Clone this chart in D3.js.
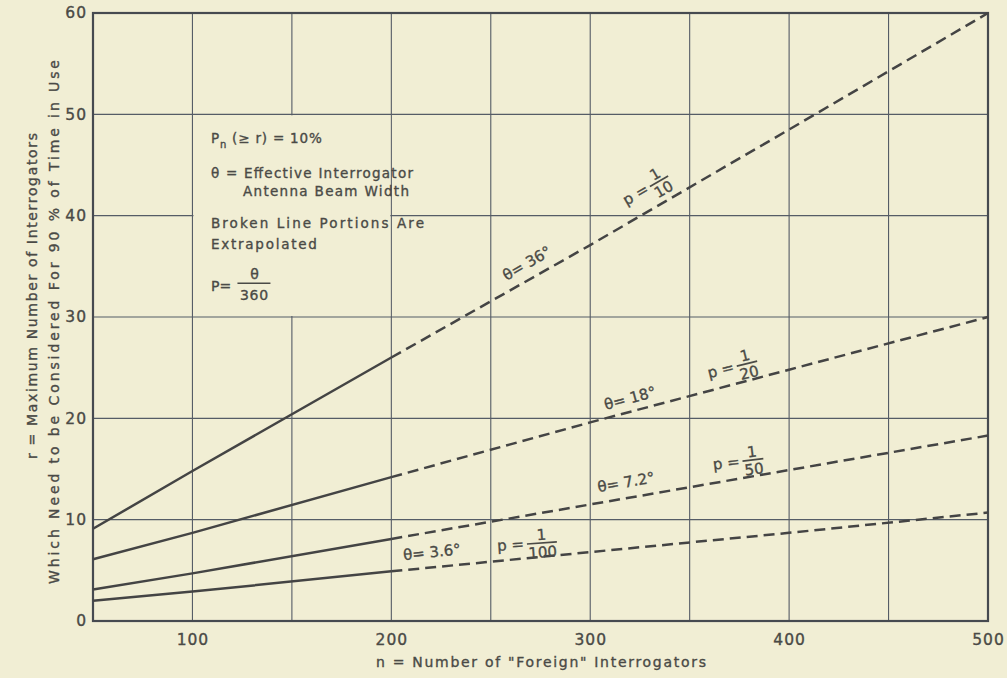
<!DOCTYPE html>
<html><head><meta charset="utf-8">
<script src="https://cdn.jsdelivr.net/npm/d3@7"></script>
<style>
html,body{margin:0;padding:0;background:#f1eed4;}
svg{display:block;}
text{font-family:"DejaVu Sans", sans-serif; fill:#4a4a46; stroke:#4a4a46; stroke-width:0.35px;}
</style></head><body>
<svg id="chart" width="1007" height="678"></svg>
<script>
// ---------------- DATA ----------------
const nValues   = [50, 100, 200, 300, 400, 500];          // n = number of "foreign" interrogators
const theta36   = [9.1, 14.8, 26.0, 37.1, 48.5, 60.0];    // θ = 36°,  p = 1/10
const theta18   = [6.1, 8.7, 14.2, 19.6, 24.8, 30.0];     // θ = 18°,  p = 1/20
const theta7_2  = [3.1, 4.7, 8.1, 11.5, 14.9, 18.3];      // θ = 7.2°, p = 1/50
const theta3_6  = [2.0, 2.9, 4.9, 6.8, 8.7, 10.7];        // θ = 3.6°, p = 1/100
const thetaLabels = ["θ= 36°", "θ= 18°", "θ= 7.2°", "θ= 3.6°"];
const pDenominators = ["10", "20", "50", "100"];
const extrapolatedFrom = 200;
const xTickValues = [100, 200, 300, 400, 500];
const yTickValues = [0, 10, 20, 30, 40, 50, 60];
const xGridValues = [100, 150, 200, 250, 300, 350, 400, 450];
const yGridValues = [10, 20, 30, 40, 50];
const xTitle = "n = Number of \"Foreign\" Interrogators";
const yTitle1 = "r = Maximum Number of Interrogators";
const yTitle2 = "Which Need to be Considered For 90 % of Time in Use";
const noteLines = ["θ = Effective Interrogator", "Antenna Beam Width", "Broken Line Portions Are", "Extrapolated"];

// ---------------- LAYOUT ----------------
const svg = d3.select("#chart");
const x = d3.scaleLinear().domain([50, 500]).range([93, 988]);
const y = d3.scaleLinear().domain([0, 60]).range([621, 13]);
const gridColor = "#555c66", lineColor = "#444444", bg = "#f1eed4", ink = "#4a4a46";

// grid
svg.append("g").selectAll("line").data(xGridValues).join("line")
  .attr("x1", d => x(d)).attr("x2", d => x(d)).attr("y1", y(60)).attr("y2", y(0))
  .attr("stroke", gridColor).attr("stroke-width", 1.1);
svg.append("g").selectAll("line").data(yGridValues).join("line")
  .attr("x1", x(50)).attr("x2", x(500)).attr("y1", d => y(d)).attr("y2", d => y(d))
  .attr("stroke", gridColor).attr("stroke-width", 1.1);

// note box masks grid cell n 100..200, r 30..50
const bx0 = x(100), by0 = y(50);
svg.append("rect").attr("x", x(100) + 1).attr("y", y(50) + 1)
  .attr("width", x(200) - x(100) - 2).attr("height", y(30) - y(50) - 2).attr("fill", bg);

// border
svg.append("rect").attr("x", x(50)).attr("y", y(60)).attr("width", x(500) - x(50)).attr("height", y(0) - y(60))
  .attr("fill", "none").attr("stroke", "#464a50").attr("stroke-width", 2.2);

// axes
const yAxis = d3.axisLeft(y).tickValues(yTickValues).tickSize(0).tickPadding(6).tickFormat(d3.format("d"));
const gy = svg.append("g").attr("transform", `translate(${x(50)},0)`).call(yAxis);
gy.select(".domain").remove();
gy.selectAll("text").attr("font-size", 15.5).attr("letter-spacing", 1).attr("fill", ink)
  .attr("font-family", "DejaVu Sans");
const xAxis = d3.axisBottom(x).tickValues(xTickValues).tickSize(0).tickPadding(13).tickFormat(d3.format("d"));
const gx = svg.append("g").attr("transform", `translate(0,${y(0)})`).call(xAxis);
gx.select(".domain").remove();
gx.selectAll("text").attr("font-size", 15.5).attr("letter-spacing", 1).attr("fill", ink)
  .attr("font-family", "DejaVu Sans");

// titles
svg.append("text").attr("x", 541).attr("y", 667).attr("text-anchor", "middle")
  .attr("font-size", 14).attr("textLength", 330).attr("lengthAdjust", "spacing").text(xTitle);
svg.append("text").attr("transform", "translate(32,296) rotate(-90)").attr("text-anchor", "middle").attr("dy", "0.35em")
  .attr("font-size", 14).attr("textLength", 326).attr("lengthAdjust", "spacing").text(yTitle1);
svg.append("text").attr("transform", "translate(54,322) rotate(-90)").attr("text-anchor", "middle").attr("dy", "0.35em")
  .attr("font-size", 14).attr("textLength", 524).attr("lengthAdjust", "spacing").text(yTitle2);

// series
const series = [theta36, theta18, theta7_2, theta3_6];
const lineGen = d3.line().x(d => x(d[0])).y(d => y(d[1]));
series.forEach(vals => {
  const pts = nValues.map((n, i) => [n, vals[i]]);
  svg.append("path").attr("d", lineGen(pts.filter(p => p[0] <= extrapolatedFrom)))
    .attr("fill", "none").attr("stroke", lineColor).attr("stroke-width", 2.5);
  svg.append("path").attr("d", lineGen(pts.filter(p => p[0] >= extrapolatedFrom)))
    .attr("fill", "none").attr("stroke", lineColor).attr("stroke-width", 2.5)
    .attr("stroke-dasharray", "11,6");
});

// theta labels (anchors in data units)
const thetaAnchors = [[268.2, 35.3, -30], [320, 22.0, -15], [318, 13.7, -10], [220.4, 6.8, -6]];
thetaLabels.forEach((t, i) => {
  const [n, r, a] = thetaAnchors[i];
  svg.append("text").attr("transform", `translate(${x(n)},${y(r)}) rotate(${a})`)
    .attr("text-anchor", "middle").attr("dy", "0.35em").attr("font-size", 15).text(t);
});

// p fraction labels
const pAnchors = [[334.6, 43.4, -30, 21], [378.8, 25.4, -14, 21], [381.8, 15.9, -7, 21], [275.7, 7.7, -4, 30]];
pDenominators.forEach((den, i) => {
  const [n, r, a, w] = pAnchors[i];
  const g = svg.append("g").attr("transform", `translate(${x(n)},${y(r)}) rotate(${a})`);
  g.append("text").attr("x", -w / 2 - 3).attr("y", 5).attr("text-anchor", "end").attr("font-size", 15).text("p =");
  g.append("line").attr("x1", -w / 2).attr("x2", w / 2).attr("y1", 0).attr("y2", 0)
    .attr("stroke", ink).attr("stroke-width", 1.7);
  g.append("text").attr("x", 0).attr("y", -3).attr("text-anchor", "middle").attr("font-size", 15).text("1");
  g.append("text").attr("x", 0).attr("y", 14.5).attr("text-anchor", "middle").attr("font-size", 15).text(den);
});

// note text
const note = svg.append("g").attr("font-size", 13.5);
const l1 = note.append("text").attr("x", bx0 + 18.5).attr("y", by0 + 29).attr("letter-spacing", 0.8);
l1.append("tspan").text("P");
l1.append("tspan").attr("dy", 5).attr("font-size", 10).text("n");
l1.append("tspan").attr("dy", -5).text(" (≥ r) = 10%");
const noteY = [64, 82, 114, 135];
const noteX = [18.5, 50.5, 18.5, 18.5];
const noteLen = [202, 166, 213, 106];
noteLines.forEach((t, i) => {
  note.append("text").attr("x", bx0 + noteX[i]).attr("y", by0 + noteY[i])
    .attr("textLength", noteLen[i]).attr("lengthAdjust", "spacing").text(t);
});
note.append("text").attr("x", bx0 + 18.5).attr("y", by0 + 177).attr("font-size", 14).text("P=");
note.append("line").attr("x1", bx0 + 45).attr("x2", bx0 + 78).attr("y1", by0 + 169).attr("y2", by0 + 169)
  .attr("stroke", ink).attr("stroke-width", 1.5);
note.append("text").attr("x", bx0 + 62).attr("y", by0 + 165).attr("text-anchor", "middle").attr("font-size", 14).text("θ");
note.append("text").attr("x", bx0 + 62).attr("y", by0 + 186).attr("text-anchor", "middle").attr("font-size", 14)
  .attr("letter-spacing", 0.8).text("360");
</script>
</body></html>
